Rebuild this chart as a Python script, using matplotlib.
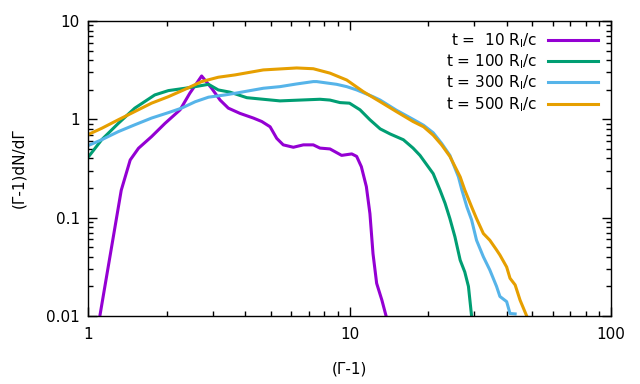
#!/usr/bin/env python3
# -*- coding: utf-8 -*-
"""
Spectra (G-1)dN/dG at four times, log-log, gnuplot look.
"""
import numpy as np
import matplotlib
matplotlib.use('Agg')
import matplotlib.pyplot as plt
from matplotlib.ticker import LogLocator, NullFormatter, FixedLocator, FixedFormatter

# t = 10 R_l/c
x10 = [1.11, 1.34, 1.45, 1.56, 1.75, 1.97, 2.25, 2.45, 2.72, 2.97, 3.2, 3.44, 3.81,
       4.29, 4.62, 4.97, 5.27, 5.58, 6.1, 6.66, 7.27, 7.71, 8.42, 9.33, 10.2, 10.65,
       11.1, 11.6, 11.97, 12.3, 12.7, 13.3, 13.8]
y10 = [0.01, 0.19, 0.386, 0.508, 0.667, 0.91, 1.25, 1.84, 2.76, 2.07, 1.57, 1.30, 1.15,
       1.03, 0.95, 0.84, 0.64, 0.55, 0.52, 0.55, 0.55, 0.51, 0.50, 0.43, 0.445, 0.42,
       0.33, 0.207, 0.11, 0.043, 0.0215, 0.0145, 0.01]

# t = 100 R_l/c
x100 = [1.0, 1.128, 1.306, 1.51, 1.80, 2.03, 2.35, 2.57, 2.89, 3.15, 3.49, 4.05, 5.42,
        6.47, 7.71, 8.42, 9.2, 10.0, 10.97, 11.97, 13.1, 14.3, 16.07, 17.5, 18.6, 20.9,
        22.2, 23.2, 24.2, 25.3, 26.5, 27.6, 28.5, 29.3]
y100 = [0.41, 0.62, 0.91, 1.30, 1.77, 1.96, 2.07, 2.15, 2.27, 1.99, 1.89, 1.66, 1.54,
        1.57, 1.60, 1.57, 1.48, 1.46, 1.25, 0.99, 0.80, 0.71, 0.62, 0.51, 0.43, 0.28,
        0.19, 0.14, 0.098, 0.064, 0.037, 0.028, 0.020, 0.01]

# t = 300 R_l/c
x300 = [1.0, 1.128, 1.306, 1.51, 1.75, 2.03, 2.28, 2.57, 2.89, 3.34, 3.65, 4.68, 5.42,
        6.28, 7.27, 7.49, 8.93, 9.76, 10.66, 12.3, 13.1, 15.1, 17.5, 19.2, 20.9, 22.5,
        24.2, 26.1, 26.9, 28.1, 29.3, 30.6, 32.5, 34.4, 36.5, 37.6, 39.9, 41.1, 43.0]
y300 = [0.54, 0.62, 0.75, 0.88, 1.03, 1.17, 1.30, 1.51, 1.68, 1.77, 1.84, 2.07, 2.15,
        2.29, 2.42, 2.42, 2.27, 2.15, 1.99, 1.70, 1.57, 1.24, 1.0, 0.87, 0.73, 0.57,
        0.43, 0.26, 0.191, 0.129, 0.095, 0.059, 0.040, 0.0294, 0.020, 0.0158, 0.014,
        0.0106, 0.0105]

# t = 500 R_l/c
x500 = [1.0, 1.128, 1.306, 1.51, 1.75, 2.03, 2.35, 2.72, 3.15, 3.65, 4.68, 6.28, 7.27,
        8.42, 9.76, 11.3, 13.1, 15.1, 17.5, 19.2, 20.9, 22.5, 24.2, 26.5, 27.6, 29.3,
        30.6, 32.5, 34.4, 36.5, 37.6, 39.9, 41.1, 43.0, 44.9, 47.6]
y500 = [0.70, 0.81, 0.99, 1.20, 1.46, 1.70, 2.02, 2.42, 2.68, 2.83, 3.18, 3.33, 3.27,
        2.95, 2.51, 1.91, 1.51, 1.20, 0.95, 0.84, 0.69, 0.55, 0.42, 0.26, 0.191, 0.129,
        0.098, 0.069, 0.059, 0.047, 0.0417, 0.0315, 0.0242, 0.0207, 0.0145, 0.01]

labels = ['t =  10 R$_\\mathregular{l}$/c', 't = 100 R$_\\mathregular{l}$/c',
          't = 300 R$_\\mathregular{l}$/c', 't = 500 R$_\\mathregular{l}$/c']
colors = ['#9400d3', '#009e73', '#56b4e9', '#e69f00']

plt.rcParams['font.family'] = ['DejaVu Sans']
plt.rcParams['font.size'] = 11

fig = plt.figure(figsize=(6.4, 3.84), dpi=100)
ax = fig.add_axes([88 / 640, 1 - 316 / 384, (611 - 88) / 640, (316 - 21) / 384])

series = [(x10, y10), (x100, y100), (x300, y300), (x500, y500)]
for (xs, ys), lab, c in zip(series, labels, colors):
    ax.plot(xs, ys, color=c, lw=2.2, label=lab, solid_joinstyle='round')

ax.set_xscale('log')
ax.set_yscale('log')
ax.set_xlim(1, 100)
ax.set_ylim(0.01, 10)

ax.xaxis.set_major_locator(FixedLocator([1, 10, 100]))
ax.xaxis.set_major_formatter(FixedFormatter(['1', '10', '100']))
ax.yaxis.set_major_locator(FixedLocator([0.01, 0.1, 1, 10]))
ax.yaxis.set_major_formatter(FixedFormatter(['0.01', '0.1', '1', '10']))
ax.xaxis.set_minor_locator(LogLocator(base=10, subs=np.arange(2, 10)))
ax.yaxis.set_minor_locator(LogLocator(base=10, subs=np.arange(2, 10)))
ax.xaxis.set_minor_formatter(NullFormatter())
ax.yaxis.set_minor_formatter(NullFormatter())
ax.tick_params(which='both', direction='in', top=True, right=True, width=1)
ax.tick_params(which='major', length=6.7, pad=8, labelsize=11)
ax.tick_params(which='minor', length=3.6)
ax.tick_params(axis='y', which='major', pad=6)
for s in ax.spines.values():
    s.set_linewidth(1)

ax.set_xlabel('(\u0393-1)', fontsize=11, labelpad=14)
ax.set_ylabel('(\u0393-1)dN/d\u0393', fontsize=11, labelpad=14)

ax.legend(loc='upper right', frameon=False, markerfirst=False, handlelength=3.3,
          handletextpad=0.7, labelspacing=0.17, fontsize=11,
          bbox_to_anchor=(0.993, 0.997), borderaxespad=0.2)

fig.savefig('out.png', dpi=100)
